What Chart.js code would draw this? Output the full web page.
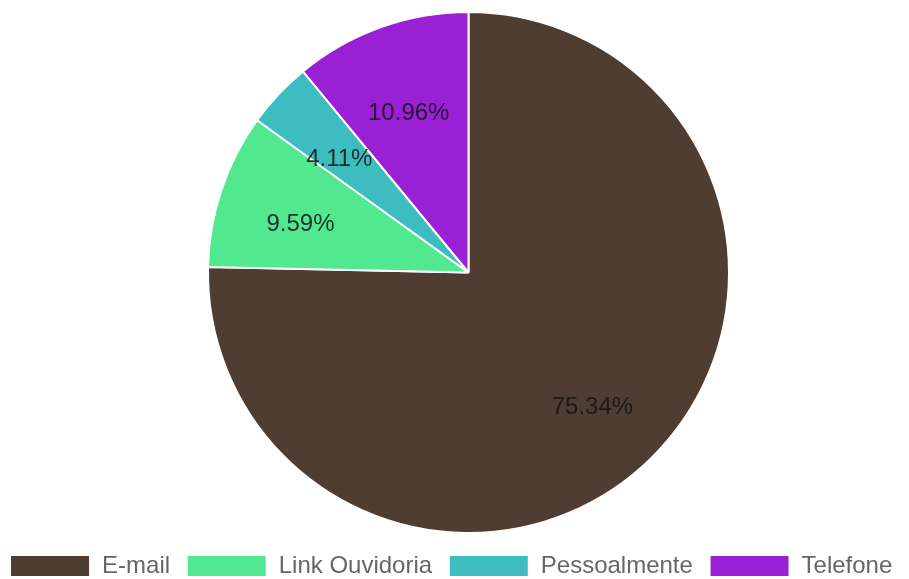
<!DOCTYPE html>
<html>
<head>
<meta charset="utf-8">
<script src="https://cdn.jsdelivr.net/npm/chart.js@4/dist/chart.umd.min.js"></script>
<style>
  html, body { margin: 0; padding: 0; background: #fff; }
  #box { width: 909px; height: 579px; }
</style>
</head>
<body>
<div id="box"><canvas id="grafico"></canvas></div>
<script>
// dados do gráfico
const categorias = ["E-mail", "Link Ouvidoria", "Pessoalmente", "Telefone"];
const valores = [55, 7, 3, 8];
const cores = ["#4e3d30", "#52e88f", "#3dbdbf", "#9a20d6"];

// escreve a porcentagem dentro de cada fatia
const rotulos = {
    id: 'rotulos',
    afterDatasetsDraw(chart) {
        const ctx = chart.ctx;
        const meta = chart.getDatasetMeta(0);
        const total = valores.reduce((a, b) => a + b, 0);
        ctx.save();
        ctx.font = '24px "Liberation Sans", Arial, sans-serif';
        ctx.fillStyle = 'rgba(20,20,20,0.85)';
        ctx.textAlign = 'center';
        ctx.textBaseline = 'middle';
        meta.data.forEach((arc, i) => {
            const meio = (arc.startAngle + arc.endAngle) / 2;
            const r = arc.outerRadius * 0.68;
            const x = arc.x + Math.cos(meio) * r;
            const y = arc.y + Math.sin(meio) * r + 8;
            ctx.fillText((valores[i] / total * 100).toFixed(2) + '%', x, y);
        });
        ctx.restore();
    }
};

new Chart(document.getElementById('grafico'), {
    type: 'pie',
    data: {
        labels: categorias,
        datasets: [{
            data: valores,
            backgroundColor: cores,
            borderColor: '#ffffff',
            borderWidth: 2
        }]
    },
    options: {
        responsive: true,
        maintainAspectRatio: false,
        animation: false,
        layout: { padding: { top: 11, bottom: -9 } },
        plugins: {
            // título vazio à esquerda só para empurrar a pizza para a direita
            title: {
                display: true,
                position: 'left',
                text: ' ',
                padding: 0,
                font: { size: 28, lineHeight: 1 }
            },
            legend: {
                position: 'bottom',
                title: { display: true, text: ' ', padding: 0, font: { size: 10, lineHeight: 1 } },
                labels: {
                    boxWidth: 80,
                    boxHeight: 22,
                    padding: 10,
                    color: '#666',
                    font: { size: 24, family: '"Liberation Sans", Arial, sans-serif' },
                    generateLabels(chart) {
                        const itens = Chart.overrides.pie.plugins.legend.labels.generateLabels(chart);
                        itens.forEach(it => { it.text = it.text + ' '; });
                        return itens;
                    }
                }
            },
            tooltip: { enabled: false }
        }
    },
    plugins: [rotulos]
});
</script>
</body>
</html>
